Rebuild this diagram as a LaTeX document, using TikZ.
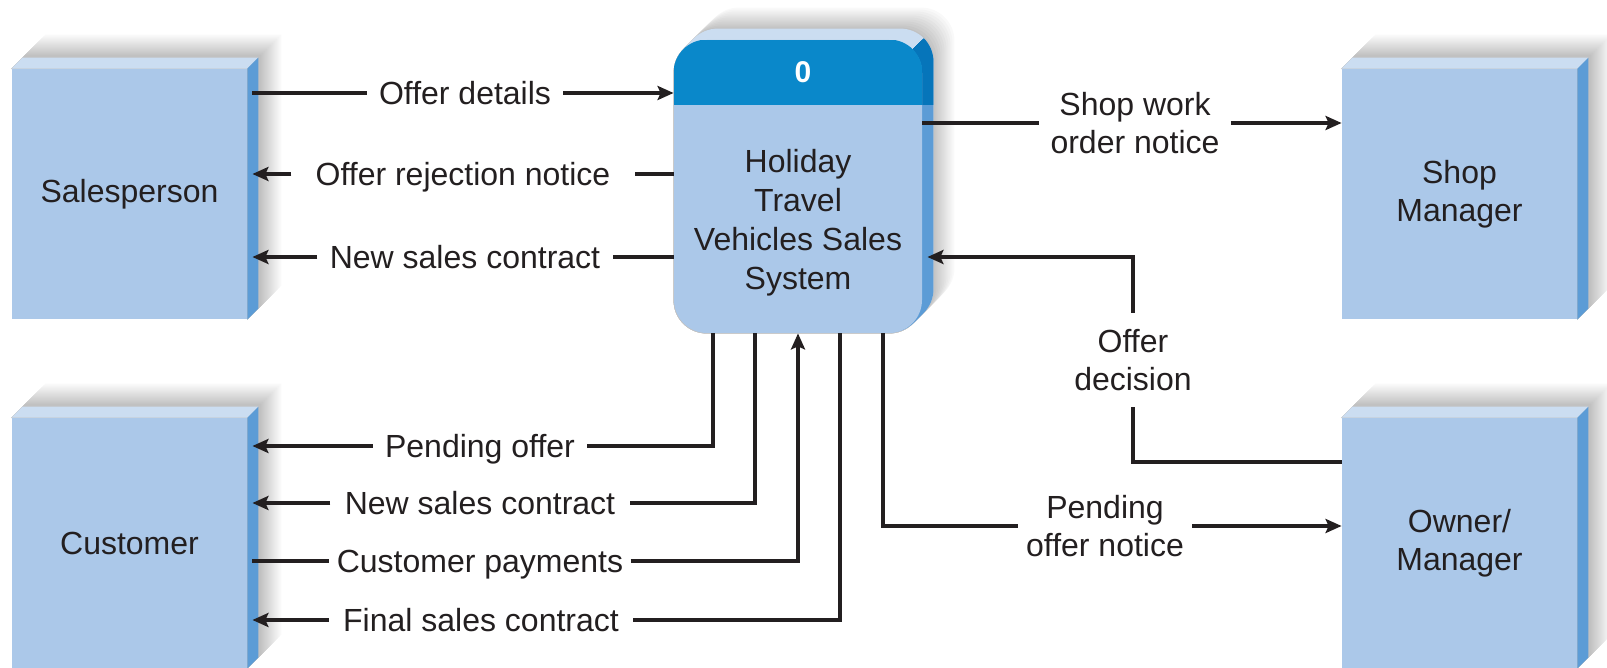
\documentclass[tikz,border=0pt]{standalone}
\usepackage{fontspec}
\setmainfont{Liberation Sans}
\usetikzlibrary{calc,backgrounds,arrows.meta}

\definecolor{frontblue}{RGB}{171,200,233}
\definecolor{topblue}{RGB}{203,221,241}
\definecolor{sideblue}{RGB}{92,156,214}
\definecolor{headblue}{RGB}{10,136,202}
\definecolor{headside}{RGB}{6,117,186}
\definecolor{inkgray}{RGB}{35,31,32}

\tikzset{
  entity/.style={fill=frontblue, minimum width=117.5pt, minimum height=125pt, align=center, inner sep=0pt},
  process/.style={fill=frontblue, rounded corners=16.5pt, minimum width=124pt, minimum height=146.5pt, inner sep=0pt},
  flowlabel/.style={fill=white, align=center, inner xsep=6pt, inner ysep=1pt, text height=11.5pt, text depth=0pt},
  flowlabel2/.style={fill=white, align=center, inner xsep=6pt, inner ysep=6pt},
  flow/.style={draw=inkgray, line width=1.7pt},
  flowarrow/.style={flow, -{Stealth[length=8pt,width=7pt,inset=1.5pt]}},
}

\newcommand{\boxdepth}[1]{%
  \begin{scope}[on background layer]
    \foreach \sd [evaluate=\sd as \sg using (36-\sd)*1.1] in {34,32,...,14}
      \fill[black!\sg] (#1.north west) -- ++(\sd,-\sd) -- ($(#1.north east)+(\sd,-\sd)$)
        -- ($(#1.south east)+(\sd,-\sd)$) -- (#1.south east) -- cycle;
    \fill[topblue] (#1.north west) -- ++(11,-11) -- ($(#1.north east)+(11,-11)$) -- (#1.north east) -- cycle;
    \fill[sideblue] (#1.north east) -- ++(11,-11) -- ($(#1.south east)+(11,-11)$) -- (#1.south east) -- cycle;
  \end{scope}
}

\begin{document}
\begin{tikzpicture}[x=0.5pt, y=-0.5pt, font=\fontsize{16}{19}\selectfont, text=inkgray]
\useasboundingbox (0,0) rectangle (1607,668);

\node[entity] (sales) at (129.5,194) {Salesperson};
\node[entity] (cust) at (129.5,543) {Customer};
\node[entity] (shop) at (1459.5,194) {Shop\\Manager};
\node[entity] (owner) at (1459.5,543) {Owner/\\Manager};
\foreach \e in {sales,cust,shop,owner} {\boxdepth{\e}}

\node[process] (proc) at (798,186.5) {};
\begin{scope}[on background layer]
  \foreach \sd [evaluate=\sd as \sg using (34-\sd)*1.1] in {32,30,...,12}
    \foreach \k in {0,2,...,\sd}
      \fill[black!\sg, rounded corners=16.5pt] ($(proc.south west)+(\k,-\k)$) rectangle ($(proc.north east)+(\k,-\k)$);
  \foreach \k in {1,...,11}
    \fill[topblue, rounded corners=16.5pt] ($(proc.south west)+(\k,-\k)$) rectangle ($(proc.north east)+(\k,-\k)$);
  \begin{scope}
    \clip (962,0) -- (1100,0) -- (1100,400) -- (562,400) -- cycle;
    \foreach \k in {1,...,11}
      \fill[sideblue, rounded corners=16.5pt] ($(proc.south west)+(\k,-\k)$) rectangle ($(proc.north east)+(\k,-\k)$);
    \clip (0,0) rectangle (1100,105);
    \foreach \k in {1,...,11}
      \fill[headside, rounded corners=16.5pt] ($(proc.south west)+(\k,-\k)$) rectangle ($(proc.north east)+(\k,-\k)$);
  \end{scope}
\end{scope}
\begin{scope}
  \clip[rounded corners=16.5pt] (proc.south west) rectangle (proc.north east);
  \fill[headblue] (proc.north west) rectangle ($(proc.north east)+(0,65)$);
\end{scope}
\node[font=\fontsize{15}{18}\selectfont\bfseries, text=white] (pnum) at ($(proc.north)+(5,33)$) {0};
\node[align=center, font=\fontsize{16}{19.5}\selectfont] (pname) at (798,223) {Holiday\\Travel\\Vehicles Sales\\System};

\coordinate (sE) at ([xshift=2.5pt]sales.east);
\coordinate (cE) at ([xshift=2.5pt]cust.east);
\coordinate (pE) at ([xshift=2.5pt]proc.east);
\coordinate (p1) at ($(proc.south)+(-85,0)$);
\coordinate (p2) at ($(proc.south)+(-43,0)$);
\coordinate (p3) at (proc.south);
\coordinate (p4) at ($(proc.south)+(42,0)$);
\coordinate (p5) at ($(proc.south)+(85,0)$);

\node[flowlabel] (l1) at (465,93) {Offer details};
\node[flowlabel, inner xsep=12pt] (l2) at (463,174) {Offer rejection notice};
\node[flowlabel] (l3) at (465,257) {New sales contract};
\node[flowlabel2, inner xsep=5.5pt] (l4) at (1135,123) {Shop work\\order notice};
\node[flowlabel2, inner ysep=8pt] (l5) at (1133,360) {Offer\\decision};
\node[flowlabel2, inner xsep=4pt] (l6) at (1105,526) {Pending\\offer notice};
\node[flowlabel] (l7) at (480,446) {Pending offer};
\node[flowlabel, inner xsep=7pt] (l8) at (480,503) {New sales contract};
\node[flowlabel, inner xsep=3.5pt] (l9) at (480,561) {Customer payments};
\node[flowlabel, inner xsep=7pt] (l10) at (481,620) {Final sales contract};

\draw[flow] (sE |- l1) -- (l1.west);
\draw[flowarrow] (l1.east) -- (proc.west |- l1);
\draw[flowarrow] (l2.west) -- (sE |- l2);
\draw[flow] (proc.west |- l2) -- (l2.east);
\draw[flowarrow] (l3.west) -- (sE |- l3);
\draw[flow] (proc.west |- l3) -- (l3.east);

\draw[flow] (proc.east |- l4) -- (l4.west);
\draw[flowarrow] (l4.east) -- (shop.west |- l4);
\draw[flow] (owner.west |- 0,462) -| (l5.south);
\draw[flowarrow] (l5.north) |- (pE |- 0,257);
\draw[flow] (p5) |- (l6.west);
\draw[flowarrow] (l6.east) -- (owner.west |- l6);

\draw[flowarrow] (l7.west) -- (cE |- l7);
\draw[flow] (p1) |- (l7.east);
\draw[flowarrow] (l8.west) -- (cE |- l8);
\draw[flow] (p2) |- (l8.east);
\draw[flow] (cE |- l9) -- (l9.west);
\draw[flowarrow] (l9.east) -| (p3);
\draw[flowarrow] (l10.west) -- (cE |- l10);
\draw[flow] (p4) |- (l10.east);
\end{tikzpicture}
\end{document}
